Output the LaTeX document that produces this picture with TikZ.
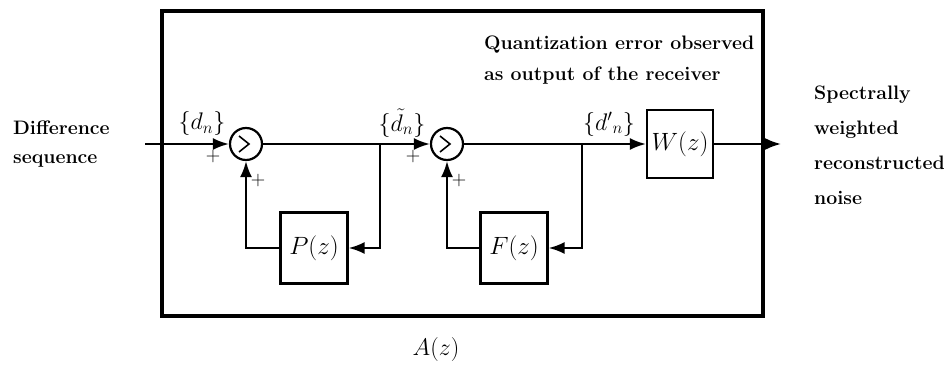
\documentclass[tikz,border=0pt]{standalone}
\usepackage{fix-cm}
\usetikzlibrary{arrows.meta,positioning}
\begin{document}
\begin{tikzpicture}[x=1pt,y=-1pt,line width=2.2pt,
    block/.style={draw,minimum width=67pt,minimum height=71pt,inner sep=0pt,font=\fontsize{25}{30}\selectfont},
    summer/.style={draw,circle,minimum size=32pt,inner sep=0pt},
    lbl/.style={font=\fontsize{19.5}{31}\selectfont\bfseries,align=left,inner sep=0pt},
    sig/.style={-{Latex[length=16pt,width=12pt]}},
    plus/.style={font=\fontsize{20}{24}\selectfont,inner sep=0pt},
    seq/.style={font=\fontsize{24}{28}\selectfont,inner sep=0pt}]
        \useasboundingbox (0,0) rectangle (950,366);
        \draw[line width=3.2pt] (162,11) rectangle (763,316);
        % summing points and blocks
        \node[summer] (s1) at (246,144) {};
        \node[summer] (s2) at (447,144) {};
        \draw[line width=1.6pt] (s1.center) +(-7,-8) -- +(3,0) -- +(-7,8);
        \draw[line width=1.6pt] (s2.center) +(-7,-8) -- +(3,0) -- +(-7,8);
        \node[block] (p) at (314,248) {$P(z)$};
        \node[block] (f) at (514,248) {$F(z)$};
        \node[block,minimum width=66pt,minimum height=68pt] (w) at (680,144) {$W(z)$};
        \coordinate (in) at (145,144);
        \coordinate (b1) at (380,144);
        \coordinate (b2) at (582,144);
        \coordinate (out) at (781,144);
        % signal flow
        \draw[sig] (in) -- (s1);
        \draw (s1) -- (b1);
        \draw[sig] (b1) -- (s2);
        \draw[sig] (b1) |- (p.east);
        \draw[sig] (p.west) -| (s1.south);
        \draw (s2) -- (b2);
        \draw[sig] (b2) -- (w.west);
        \draw[sig] (b2) |- (f.east);
        \draw[sig] (f.west) -| (s2.south);
        \draw[sig] (w.east) -- (out);
        % labels
        \node[seq] (dn) at (202,124) {$\{d_n\}$};
        \node[seq] (dtn) at (402,123) {$\{\tilde{d}_n\}$};
        \node[seq] (dpn) at (609,124) {$\{d'{}_n\}$};
        \node[plus] at (213,157) {$+$};
        \node[plus] at (258,181) {$+$};
        \node[plus] at (413,157) {$+$};
        \node[plus] at (459,181) {$+$};
        \node[lbl,anchor=north west] (qe) at (483,35) {Quantization error observed\\as output of the receiver};
        \node[lbl,anchor=north west,font=\fontsize{19.5}{35}\selectfont\bfseries] (sw) at (813,85) {Spectrally\\weighted\\reconstructed\\noise};
        \node[lbl,anchor=north west,font=\fontsize{19.5}{29}\selectfont\bfseries] (ds) at (12,120) {Difference\\sequence};
        \node[seq] (az) at (436,349) {$A(z)$};
    \end{tikzpicture}
\end{document}
